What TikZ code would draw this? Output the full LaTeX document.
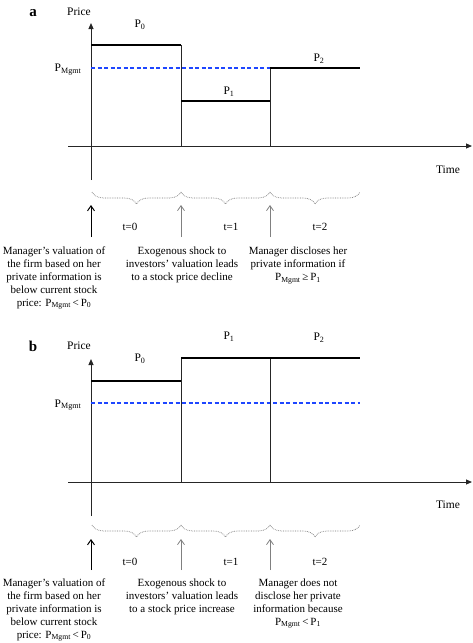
\documentclass[tikz,border=0pt]{standalone}
\usepackage{fontspec}
\setmainfont{Liberation Serif}
\usetikzlibrary{arrows.meta,decorations.pathreplacing}
\definecolor{mgmtblue}{RGB}{30,70,255}
\begin{document}
\begin{tikzpicture}[x=1pt,y=-1pt,
  txt/.style={font=\fontsize{11}{12.8}\selectfont,inner sep=0pt},
  lbl/.style={font=\fontsize{11.5}{13}\selectfont,inner sep=0pt},
  desc/.style={txt,align=center,anchor=north},
  axis/.style={line width=1pt,draw=black!85},
  axarrow/.style={axis,-{Triangle[length=6pt,width=5pt]}},
  pricebar/.style={line width=2.6pt,draw=black},
  stepline/.style={line width=1pt,draw=black!85},
  mgmt/.style={draw=mgmtblue,line width=1.2pt,dash pattern=on 4pt off 2.5pt},
  period/.style={decorate,decoration={brace,mirror,amplitude=12pt},draw=black!55,densely dotted,line width=0.7pt},
  evarrow/.style={-{Straight Barb[length=5pt,width=7pt]},line width=0.8pt},
  panel/.style={font=\bfseries\fontsize{15}{16}\selectfont,inner sep=0pt}
]
\useasboundingbox (0,0) rectangle (473,643);

% ---------------- Panel a ----------------
\node[panel] (la) at (33,13) {a};
\node[lbl] (pricea) at (79,12) {Price};
\coordinate (ya0) at (91,180);
\coordinate (ya1) at (91,23);
\coordinate (xa0) at (68,146);
\coordinate (xa1) at (472,146);
\draw[axarrow] (ya0) -- (ya1);
\draw[axarrow] (xa0) -- (xa1);
\node[lbl] (timea) at (448,170) {Time};

\coordinate (a00) at (91,45);
\coordinate (a01) at (181,45);
\coordinate (a10) at (181,101);
\coordinate (a11) at (270,101);
\coordinate (a20) at (270,68);
\coordinate (a21) at (360,68);
\coordinate (am0) at (91,68);
\coordinate (am1) at (270,68);
\coordinate (ab1) at (181,146);
\coordinate (ab2) at (270,146);
\draw[mgmt] (am0) -- (am1);
\draw[stepline] (a01) -- (ab1);
\draw[stepline] (a20) -- (ab2);
\draw[pricebar] (a00) -- (a01);
\draw[pricebar] (a10) -- (a11);
\draw[pricebar] (a20) -- (a21);
\node[lbl] (p0a) at (140,25) {P\textsubscript{0}};
\node[lbl] (p1a) at (229,92) {P\textsubscript{1}};
\node[lbl] (p2a) at (319,59) {P\textsubscript{2}};
\node[lbl] (pma) at (68,70) {P\textsubscript{Mgmt}};

\coordinate (ba0) at (92,192);
\coordinate (ba1) at (181,192);
\coordinate (ba2) at (270,192);
\coordinate (ba3) at (360,192);
\draw[period] (ba0) -- (ba1);
\draw[period] (ba1) -- (ba2);
\draw[period] (ba2) -- (ba3);

\coordinate (ea0) at (91,237);
\coordinate (ea0t) at (91,205);
\coordinate (ea1) at (181,237);
\coordinate (ea1t) at (181,205);
\coordinate (ea2) at (270,237);
\coordinate (ea2t) at (270,205);
\draw[evarrow,black,line width=1pt] (ea0) -- (ea0t);
\draw[evarrow,black!50] (ea1) -- (ea1t);
\draw[evarrow,black!50] (ea2) -- (ea2t);
\node[txt] (t0a) at (130,227) {t=0};
\node[txt] (t1a) at (231,227) {t=1};
\node[txt] (t2a) at (320,227) {t=2};

\node[desc] (d0a) at (54,247) {Manager's valuation of\\the firm based on her\\private information is\\below current stock\\price: P\textsubscript{Mgmt}\,<\,P\textsubscript{0}};
\node[desc] (d1a) at (182,247) {Exogenous shock to\\investors' valuation leads\\to a stock price decline};
\node[desc] (d2a) at (298,247) {Manager discloses her\\private information if\\P\textsubscript{Mgmt}\,≥\,P\textsubscript{1}};

% ---------------- Panel b ----------------
\node[panel] (lb) at (33,346) {b};
\node[lbl] (priceb) at (79,346) {Price};
\coordinate (yb0) at (91,516);
\coordinate (yb1) at (91,359);
\coordinate (xb0) at (68,482);
\coordinate (xb1) at (472,482);
\draw[axarrow] (yb0) -- (yb1);
\draw[axarrow] (xb0) -- (xb1);
\node[lbl] (timeb) at (448,505) {Time};

\coordinate (b00) at (91,381);
\coordinate (b01) at (181,381);
\coordinate (b10) at (181,358);
\coordinate (b11) at (270,358);
\coordinate (b21) at (360,358);
\coordinate (bm0) at (91,403);
\coordinate (bm1) at (360,403);
\coordinate (bb1) at (181,482);
\coordinate (bb2) at (270,482);
\draw[mgmt] (bm0) -- (bm1);
\draw[stepline] (b10) -- (bb1);
\draw[stepline] (b11) -- (bb2);
\draw[pricebar] (b00) -- (b01);
\draw[pricebar] (b10) -- (b21);
\node[lbl] (p0b) at (140,359) {P\textsubscript{0}};
\node[lbl] (p1b) at (229,337) {P\textsubscript{1}};
\node[lbl] (p2b) at (319,338) {P\textsubscript{2}};
\node[lbl] (pmb) at (68,405) {P\textsubscript{Mgmt}};

\coordinate (bb0) at (92,525);
\coordinate (bbb1) at (181,525);
\coordinate (bbb2) at (270,525);
\coordinate (bbb3) at (360,525);
\draw[period] (bb0) -- (bbb1);
\draw[period] (bbb1) -- (bbb2);
\draw[period] (bbb2) -- (bbb3);

\coordinate (eb0) at (91,570);
\coordinate (eb0t) at (91,539);
\coordinate (eb1) at (181,570);
\coordinate (eb1t) at (181,539);
\coordinate (eb2) at (270,570);
\coordinate (eb2t) at (270,539);
\draw[evarrow,black,line width=1pt] (eb0) -- (eb0t);
\draw[evarrow,black!50] (eb1) -- (eb1t);
\draw[evarrow,black!50] (eb2) -- (eb2t);
\node[txt] (t0b) at (130,562) {t=0};
\node[txt] (t1b) at (231,562) {t=1};
\node[txt] (t2b) at (320,562) {t=2};

\node[desc] (d0b) at (54,579) {Manager's valuation of\\the firm based on her\\private information is\\below current stock\\price: P\textsubscript{Mgmt}\,<\,P\textsubscript{0}};
\node[desc] (d1b) at (182,579) {Exogenous shock to\\investors' valuation leads\\to a stock price increase};
\node[desc] (d2b) at (298,579) {Manager does not\\disclose her private\\information because\\P\textsubscript{Mgmt}\,<\,P\textsubscript{1}};
\end{tikzpicture}
\end{document}
